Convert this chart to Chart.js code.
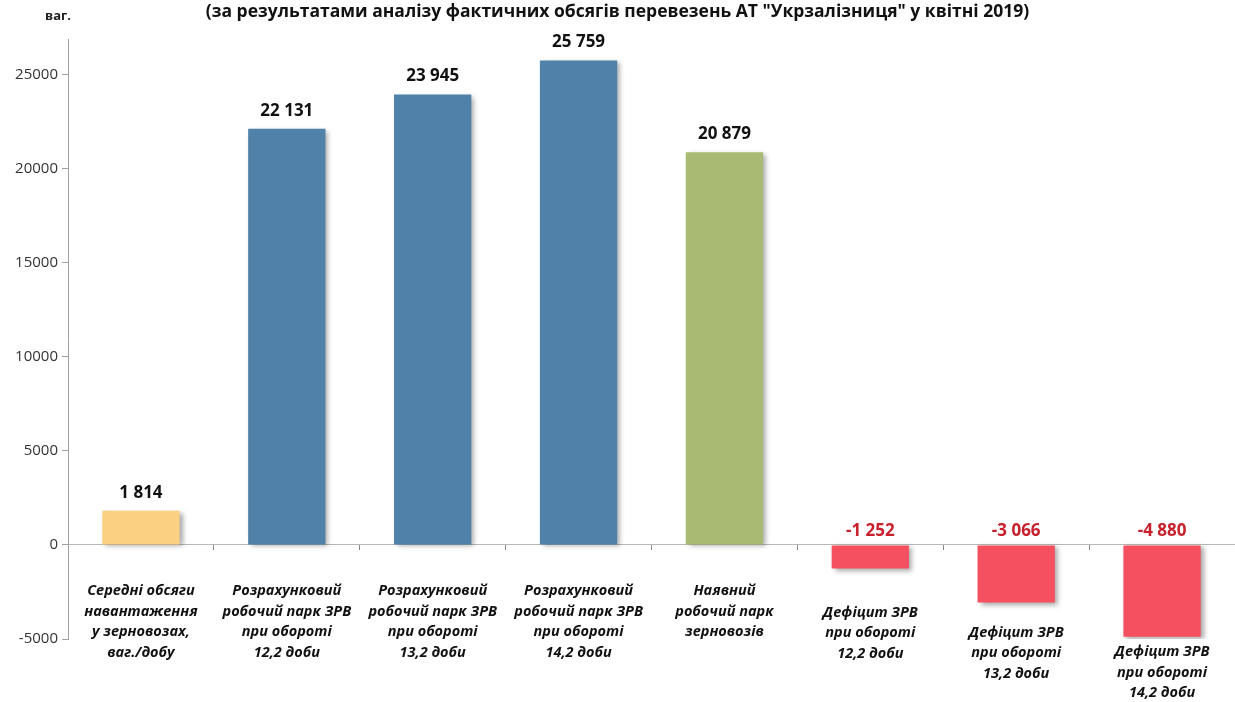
<!DOCTYPE html>
<html>
<head>
<meta charset="utf-8">
<script src="https://cdn.jsdelivr.net/npm/chart.js@4.4.0/dist/chart.umd.min.js"></script>
<style>
  html, body { margin: 0; padding: 0; background: #fff; }
  #wrap { width: 1235px; height: 702px; position: relative; }
</style>
</head>
<body>
<div id="wrap"><canvas id="deficitChart"></canvas></div>
<script>
// Категорії (рядки підписів)
const categories = [
    ['Середні обсяги', 'навантаження', 'у зерновозах,', 'ваг./добу'],
    ['Розрахунковий', 'робочий парк ЗРВ', 'при обороті', '12,2 доби'],
    ['Розрахунковий', 'робочий парк ЗРВ', 'при обороті', '13,2 доби'],
    ['Розрахунковий', 'робочий парк ЗРВ', 'при обороті', '14,2 доби'],
    ['Наявний', 'робочий парк', 'зерновозів'],
    ['Дефіцит ЗРВ', 'при обороті', '12,2 доби'],
    ['Дефіцит ЗРВ', 'при обороті', '13,2 доби'],
    ['Дефіцит ЗРВ', 'при обороті', '14,2 доби']
];
// Значення, ваг.
const values = [1814, 22131, 23945, 25759, 20879, -1252, -3066, -4880];
// Поділки осі Y
const yTicks = [-5000, 0, 5000, 10000, 15000, 20000, 25000];

const titleText = '(за результатами аналізу фактичних обсягів перевезень АТ "Укрзалізниця" у квітні 2019)';
const unitText = 'ваг.';

// Кольори стовпців
const barColors = ['#FCD083', '#4F81A9', '#4F81A9', '#4F81A9', '#A9BB73', '#F5505F', '#F5505F', '#F5505F'];

function formatNumber(n) {
    return n.toString().replace(/\B(?=(\d{3})+(?!\d))/g, ' ');
}

// Тінь під стовпцями
const shadowPlugin = {
    id: 'barShadow',
    beforeDatasetsDraw(chart) {
        const ctx = chart.ctx;
        ctx.save();
        ctx.shadowColor = 'rgba(0,0,0,0.35)';
        ctx.shadowBlur = 5;
        ctx.shadowOffsetX = 3;
        ctx.shadowOffsetY = 2;
    },
    afterDatasetsDraw(chart) {
        chart.ctx.restore();
    }
};

// Підписи значень, категорій та одиниці виміру
const labelsPlugin = {
    id: 'customLabels',
    afterDraw(chart) {
        const ctx = chart.ctx;
        const y = chart.scales.y;
        const meta = chart.getDatasetMeta(0);
        const zero = y.getPixelForValue(0);
        ctx.save();
        ctx.textAlign = 'center';
        ctx.textBaseline = 'middle';
        meta.data.forEach((bar, i) => {
            const v = values[i];
            // значення
            ctx.font = 'bold 17px "Open Sans"';
            ctx.fillStyle = v < 0 ? '#C8202C' : '#111';
            const ly = v >= 0 ? y.getPixelForValue(v) - 18 : zero - 14;
            ctx.fillText(formatNumber(v), bar.x, ly);
            // категорія
            ctx.font = 'italic bold 14.5px "Open Sans"';
            ctx.fillStyle = '#111';
            let ty = zero + 46;
            if (v < 0) {
                const d = y.getPixelForValue(v) - zero;
                ty = zero + 54 + 0.58 * d;
            }
            categories[i].forEach((line, k) => {
                ctx.fillText(line, bar.x, ty + k * 20.5);
            });
        });
        ctx.font = 'bold 13px "Open Sans"';
        ctx.fillStyle = '#222';
        ctx.fillText(unitText, 58, 16);
        ctx.restore();
    }
};

const ctx = document.getElementById('deficitChart').getContext('2d');
new Chart(ctx, {
    type: 'bar',
    data: {
        labels: categories,
        datasets: [{
            data: values,
            backgroundColor: barColors,
            borderWidth: 0,
            barPercentage: 0.53,
            categoryPercentage: 1
        }]
    },
    options: {
        responsive: true,
        maintainAspectRatio: false,
        animation: false,
        layout: { padding: { top: 2, right: 0, bottom: 63, left: 0 } },
        scales: {
            x: {
                position: { y: 0 },
                border: { color: '#B8B8B8' },
                grid: { drawOnChartArea: false, tickLength: 5, color: '#888', offset: true },
                ticks: { display: false }
            },
            y: {
                min: -5000,
                max: 26900,
                border: { color: '#A0A0A0' },
                grid: { drawOnChartArea: false, tickLength: 6, color: '#A0A0A0' },
                ticks: {
                    font: { family: '"Open Sans"', size: 15 },
                    color: '#333',
                    padding: 4,
                    callback: (v) => String(v)
                },
                afterBuildTicks(scale) {
                    scale.ticks = yTicks.map(v => ({ value: v }));
                },
                afterFit(scale) {
                    scale.width = 68;
                }
            }
        },
        plugins: {
            legend: { display: false },
            tooltip: { enabled: false },
            title: {
                display: true,
                text: titleText,
                color: '#111',
                font: { family: '"Open Sans"', size: 17.5, weight: 'bold' },
                padding: { top: 0, bottom: 16 }
            }
        }
    },
    plugins: [shadowPlugin, labelsPlugin]
});
</script>
</body>
</html>
